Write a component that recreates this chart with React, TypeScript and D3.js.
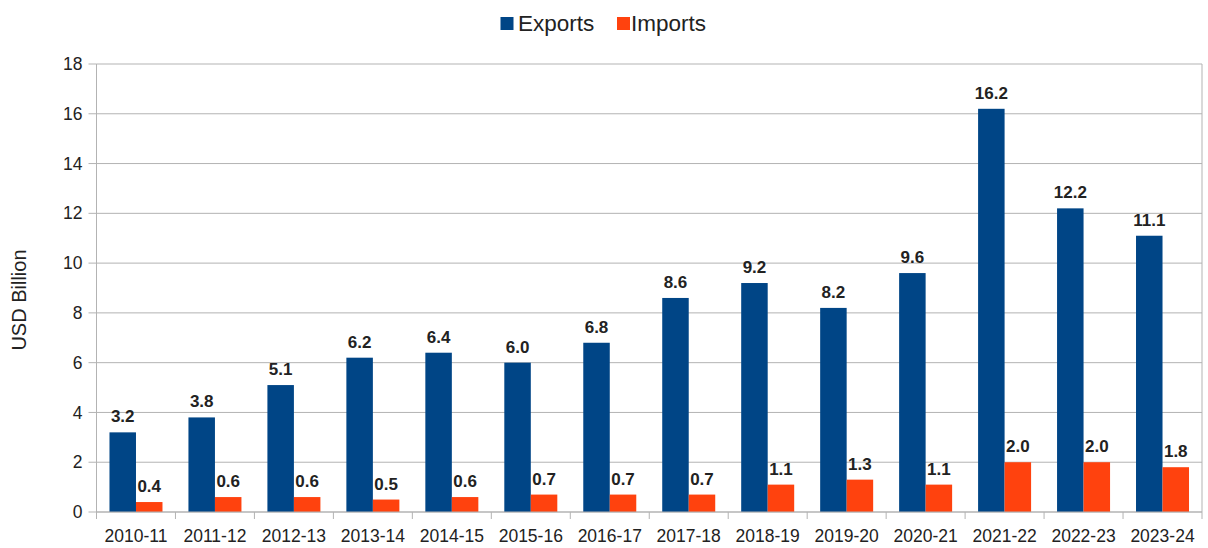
import React from "react";
import * as d3 from "d3";

const categories = ["2010-11","2011-12","2012-13","2013-14","2014-15","2015-16","2016-17","2017-18","2018-19","2019-20","2020-21","2021-22","2022-23","2023-24"];
const exportsVals = [3.2,3.8,5.1,6.2,6.4,6.0,6.8,8.6,9.2,8.2,9.6,16.2,12.2,11.1];
const importsVals = [0.4,0.6,0.6,0.5,0.6,0.7,0.7,0.7,1.1,1.3,1.1,2.0,2.0,1.8];
const yTicks = [0,2,4,6,8,10,12,14,16,18];
const seriesNames = ["Exports","Imports"];
const colors = ["#004586","#ff420e"];

const W = 1208, H = 548;
const M = { left: 96.5, right: 1202, top: 64, bottom: 512 };
const FONT = "'Liberation Sans', Arial, sans-serif";

export default function App() {
  const x = d3.scaleBand<string>().domain(categories).range([M.left, M.right]).paddingInner(0).paddingOuter(0);
  const bw = x.bandwidth();
  const groupW = 53;
  const x1 = d3.scaleBand<string>().domain(seriesNames).range([0, groupW]).padding(0);
  const y = d3.scaleLinear().domain([0, 18]).range([M.bottom, M.top]);
  const series = [exportsVals, importsVals];
  const gridColor = "#b3b3b3";

  return (
    <svg width={W} height={H} style={{ position: "absolute", left: 0, top: 0, background: "#fff" }} fontFamily={FONT}>
      <rect x={0} y={0} width={W} height={H} fill="#fff" />
      {yTicks.map((t) => (
        <g key={t}>
          <line x1={M.left} x2={M.right} y1={y(t)} y2={y(t)} stroke={gridColor} strokeWidth={1} />
          <line x1={M.left - 8} x2={M.left} y1={y(t)} y2={y(t)} stroke={gridColor} strokeWidth={1} />
          <text x={M.left - 14} y={y(t)} dy="0.35em" textAnchor="end" fontSize={17.5} fill="#222">{t}</text>
        </g>
      ))}
      <line x1={M.left} x2={M.left} y1={M.top} y2={M.bottom} stroke={gridColor} />
      <line x1={M.right} x2={M.right} y1={M.top} y2={M.bottom} stroke={gridColor} />
      {categories.map((c, i) => {
        const gx = (x(c) as number) + (bw - groupW) / 2;
        return (
          <g key={c}>
            {series.map((vals, s) => {
              const v = vals[i];
              const bx = gx + (x1(seriesNames[s]) as number);
              return (
                <g key={s}>
                  <rect x={bx} y={y(v)} width={x1.bandwidth()} height={y(0) - y(v)} fill={colors[s]} />
                  <text x={bx + x1.bandwidth() / 2} y={y(v) - 10} textAnchor="middle" fontSize={17} fontWeight="bold" fill="#222">{v.toFixed(1)}</text>
                </g>
              );
            })}
          </g>
        );
      })}
      <line x1={M.left} x2={M.right} y1={M.bottom} y2={M.bottom} stroke={gridColor} />
      {categories.map((c) => (
        <g key={c}>
          <line x1={x(c) as number} x2={x(c) as number} y1={M.bottom} y2={M.bottom + 7} stroke={gridColor} />
          <text x={(x(c) as number) + bw / 2} y={541.5} textAnchor="middle" fontSize={17.5} fill="#222">{c}</text>
        </g>
      ))}
      <line x1={M.right} x2={M.right} y1={M.bottom} y2={M.bottom + 7} stroke={gridColor} />
      <text transform={`translate(26,300) rotate(-90)`} textAnchor="middle" fontSize={20} fill="#222">USD Billion</text>
      <rect x={500.5} y={17} width={13} height={13} fill={colors[0]} />
      <text x={518} y={30.5} fontSize={22.5} fill="#222">{seriesNames[0]}</text>
      <rect x={617} y={17} width={13} height={13} fill={colors[1]} />
      <text x={631} y={30.5} fontSize={22.5} fill="#222">{seriesNames[1]}</text>
    </svg>
  );
}
